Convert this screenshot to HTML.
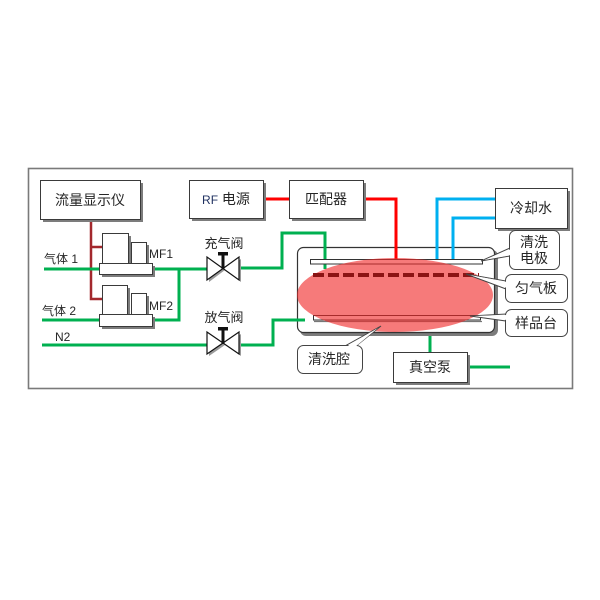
<!DOCTYPE html>
<html><head><meta charset="utf-8"><style>
html,body{margin:0;padding:0;background:#fff;}
svg{display:block;}
text{font-family:"Liberation Sans","Noto Sans CJK SC",sans-serif;fill:#262626;}
</style></head><body>
<svg width="600" height="600" viewBox="0 0 600 600" xmlns="http://www.w3.org/2000/svg">
<rect x="0" y="0" width="600" height="600" fill="#fff"/>
<!-- outer frame -->
<rect x="28.5" y="168.5" width="544" height="220" fill="#fff" stroke="#7a7a7a" stroke-width="1.6"/>

<!-- lines: dark red -->
<g stroke="#a3282d" stroke-width="2.5" fill="none">
<polyline points="91,219 91,299 102,299"/>
<line x1="91" y1="247" x2="102" y2="247"/>
</g>

<!-- green lines -->
<g stroke="#00b050" stroke-width="3" fill="none">
<line x1="44" y1="269" x2="208" y2="269"/>
<polyline points="42,320 179,320 179,269"/>
<line x1="42" y1="345" x2="208" y2="345"/>
<polyline points="238,268 282,268 282,233 325,233 325,269"/>
<polyline points="238,345 273,345 273,320 305,320"/>
<line x1="430" y1="327" x2="430" y2="352"/>
<line x1="467" y1="367" x2="510" y2="367"/>
</g>

<!-- red lines -->
<g stroke="#ff0000" stroke-width="3" fill="none">
<line x1="263" y1="199" x2="289" y2="199"/>
<polyline points="363,199 396,199 396,261"/>
</g>

<!-- blue lines -->
<g stroke="#00b0f0" stroke-width="3" fill="none">
<polyline points="495,199 437,199 437,260"/>
<polyline points="495,218 453,218 453,260"/>
</g>

<!-- boxes with shadow -->
<g fill="#7c7c7c">
<rect x="43" y="183" width="100" height="39"/>
<rect x="192" y="183" width="74" height="38"/>
<rect x="292" y="183" width="74" height="38"/>
<rect x="498" y="191" width="72" height="40"/>
<rect x="396" y="355" width="74" height="30"/>
<rect x="105" y="236" width="26" height="32"/>
<rect x="134" y="245" width="15" height="23"/>
<rect x="102" y="266" width="53" height="11"/>
<rect x="105" y="288" width="25" height="31"/>
<rect x="134" y="296" width="15" height="23"/>
<rect x="102" y="317" width="53" height="12"/>
</g>
<g fill="#fff" stroke="#3a3a3a" stroke-width="1">
<rect x="40.5" y="180.5" width="100" height="39"/>
<rect x="189.5" y="180.5" width="74" height="38"/>
<rect x="289.5" y="180.5" width="74" height="38"/>
<rect x="495.5" y="188.5" width="72" height="40"/>
<rect x="393.5" y="352.5" width="74" height="30"/>
<rect x="102.5" y="233.5" width="26" height="32"/>
<rect x="131.5" y="242.5" width="15" height="23"/>
<rect x="99.5" y="263.5" width="53" height="11"/>
<rect x="102.5" y="285.5" width="25" height="31"/>
<rect x="131.5" y="293.5" width="15" height="23"/>
<rect x="99.5" y="314.5" width="53" height="12"/>
</g>

<!-- chamber -->
<rect x="300" y="250" width="198" height="86" rx="6" fill="#7c7c7c"/>
<rect x="297.5" y="247.5" width="197" height="85" rx="6" fill="#fff" stroke="#333" stroke-width="1.2"/>
<g fill="none" stroke-width="3">
<line x1="325" y1="245" x2="325" y2="269" stroke="#00b050"/>
<line x1="396" y1="245" x2="396" y2="261" stroke="#ff0000"/>
<line x1="437" y1="245" x2="437" y2="260" stroke="#00b0f0"/>
<line x1="453" y1="245" x2="453" y2="260" stroke="#00b0f0"/>
<line x1="296" y1="320" x2="305" y2="320" stroke="#00b050"/>
</g>
<!-- electrode & stage -->
<rect x="310.5" y="259.5" width="172" height="4.5" fill="#fff" stroke="#333" stroke-width="1"/>
<rect x="313.5" y="315.5" width="167" height="4.5" fill="#fff" stroke="#333" stroke-width="1"/>
<line x1="314" y1="321.5" x2="482" y2="321.5" stroke="#777" stroke-width="1.2"/>
<!-- plasma ellipse -->
<ellipse cx="395" cy="295" rx="98" ry="37" fill="rgb(240,40,40)" fill-opacity="0.62"/>
<!-- gas plate dashes -->
<line x1="313" y1="275" x2="479" y2="275" stroke="#8b1414" stroke-width="4" stroke-dasharray="11 4"/>

<!-- callouts -->
<g fill="#fff" stroke="#444" stroke-width="1">
<polygon points="345,346 356,346 381,326"/>
<rect x="297.5" y="345.5" width="65" height="28" rx="6"/>
<polygon points="510,248 510,256 481,261"/>
<rect x="509.5" y="230.5" width="50" height="39" rx="6"/>
<polygon points="506,281 506,289 466,274"/>
<rect x="505.5" y="274.5" width="62" height="28" rx="6"/>
<polygon points="506,314 506,321 470,316"/>
<rect x="505.5" y="309.5" width="62" height="27" rx="6"/>
</g>
<g fill="#fff" stroke="none">
<polygon points="346,347 355,347 378,328"/>
<polygon points="511,249 511,255 484,260"/>
<polygon points="507,282 507,288 470,275"/>
<polygon points="507,315 507,320 474,316"/>
</g>

<!-- valves -->
<g>
<polygon points="209,259 209,282 225,270 241,259 241,282 225,270" fill="#9a9a9a"/>
<polygon points="207,257 207,280 223,268.5" fill="#fff" stroke="#111" stroke-width="1.2"/>
<polygon points="239,257 239,280 223,268.5" fill="#fff" stroke="#111" stroke-width="1.2"/>
<rect x="221.5" y="254" width="3" height="15" fill="#111"/>
<rect x="218" y="252" width="10" height="3.5" fill="#111"/>

<polygon points="209,334 209,356 225,345 241,334 241,356 225,345" fill="#9a9a9a"/>
<polygon points="207,332 207,354 223,343" fill="#fff" stroke="#111" stroke-width="1.2"/>
<polygon points="239,332 239,354 223,343" fill="#fff" stroke="#111" stroke-width="1.2"/>
<rect x="221.5" y="329" width="3" height="15" fill="#111"/>
<rect x="218" y="327" width="10" height="3.5" fill="#111"/>
</g>

<!-- text -->
<g font-size="14" text-anchor="middle">
<text x="90" y="205">流量显示仪</text>
<text x="226" y="204"><tspan fill="#1f3060" font-size="12">RF</tspan> 电源</text>
<text x="326" y="204">匹配器</text>
<text x="531" y="213">冷却水</text>
<text x="534" y="247">清洗</text>
<text x="534" y="263">电极</text>
<text x="536" y="293">匀气板</text>
<text x="536" y="328">样品台</text>
<text x="329" y="364">清洗腔</text>
<text x="430" y="372">真空泵</text>
</g>
<g font-size="13" text-anchor="middle">
<text x="224" y="248">充气阀</text>
<text x="224" y="322">放气阀</text>
</g>
<g font-size="12">
<text x="44" y="263">气体 1</text>
<text x="42" y="315">气体 2</text>
<text x="55" y="341">N2</text>
<text x="149" y="258">MF1</text>
<text x="149" y="310">MF2</text>
</g>
</svg>
</body></html>
